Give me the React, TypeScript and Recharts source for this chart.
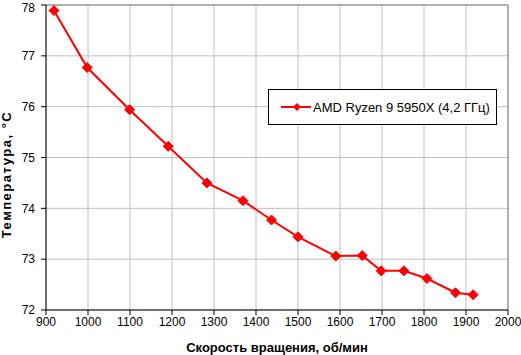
import React from 'react';
import { LineChart, Line, XAxis, YAxis, CartesianGrid, ReferenceLine } from 'recharts';

const rpm = [919, 998, 1099, 1191, 1283, 1369, 1437, 1500, 1590, 1653, 1698, 1752, 1807, 1875, 1917];
const temp = [77.89, 76.77, 75.94, 75.22, 74.5, 74.15, 73.77, 73.44, 73.06, 73.07, 72.77, 72.77, 72.62, 72.34, 72.3];
const xTicks = [900, 1000, 1100, 1200, 1300, 1400, 1500, 1600, 1700, 1800, 1900, 2000];
const yTicks = [72, 73, 74, 75, 76, 77, 78];
const seriesName = 'AMD Ryzen 9 5950X (4,2 ГГц)';
const xTitle = 'Скорость вращения, об/мин';
const yTitle = 'Температура, °C';

const data = rpm.map((r, i) => ({ rpm: r, t: temp[i] }));

const FONT = 'Arial, "Liberation Sans", sans-serif';

const Diamond = (props: any) => {
  const { cx, cy } = props;
  if (cx == null || cy == null) return null;
  const r = 5;
  return <path d={`M${cx},${cy - r}L${cx + r},${cy}L${cx},${cy + r}L${cx - r},${cy}Z`} fill="#ff0000" stroke="#ff0000" strokeWidth={1} />;
};

const LegendBox = () => (
  <div style={{ position: 'absolute', left: 268, top: 89, width: 227, height: 34, border: '1px solid #000', background: '#fff', display: 'flex', alignItems: 'center', fontFamily: FONT, fontSize: 13, color: '#000', whiteSpace: 'nowrap' }}>
    <svg width={44} height={14}>
      <line x1={12} y1={7} x2={42} y2={7} stroke="#ff0000" strokeWidth={2} />
      <path d="M28,3L32,7L28,11L24,7Z" fill="#ff0000" />
    </svg>
    <span>{seriesName}</span>
  </div>
);

export default function App() {
  return (
    <div style={{ position: 'fixed', left: 0, top: 0, width: 521, height: 355, background: '#fff' }}>
      <LineChart width={521} height={355} data={data} margin={{ top: 5, right: 13, bottom: 0, left: 0 }}>
        <CartesianGrid stroke="#c0c0c0" strokeWidth={1} />
        <XAxis
          dataKey="rpm"
          type="number"
          domain={[900, 2000]}
          ticks={xTicks}
          height={45}
          tickSize={5}
          tickMargin={2}
          stroke="#000"
          tick={{ fill: '#000', fontSize: 12, fontFamily: FONT }}
          label={{
            content: (p: any) => {
              const vb = p.viewBox;
              return (
                <text x={vb.x + vb.width / 2} y={vb.y + 42} textAnchor="middle" fontFamily={FONT} fontSize={13} fontWeight="bold" fill="#000">
                  {xTitle}
                </text>
              );
            },
          }}
        />
        <YAxis
          type="number"
          domain={[72, 78]}
          ticks={yTicks}
          width={46}
          tickSize={5}
          tickMargin={6}
          stroke="#000"
          tick={{ fill: '#000', fontSize: 12, fontFamily: FONT }}
          label={{
            content: (p: any) => {
              const vb = p.viewBox;
              const x = vb.x + 11;
              const y = vb.y + vb.height / 2 + 17;
              return (
                <text x={x} y={y} transform={`rotate(-90, ${x}, ${y})`} textAnchor="middle" fontFamily={FONT} fontSize={13} fontWeight="bold" letterSpacing={1.5} fill="#000">
                  {yTitle}
                </text>
              );
            },
          }}
        />
        <ReferenceLine y={78} stroke="#808080" strokeWidth={1} />
        <ReferenceLine x={2000} stroke="#808080" strokeWidth={1} />
        <Line
          type="linear"
          dataKey="t"
          name={seriesName}
          stroke="#ff0000"
          strokeWidth={2}
          dot={<Diamond />}
          activeDot={false}
          isAnimationActive={false}
        />
      </LineChart>
      <LegendBox />
    </div>
  );
}
